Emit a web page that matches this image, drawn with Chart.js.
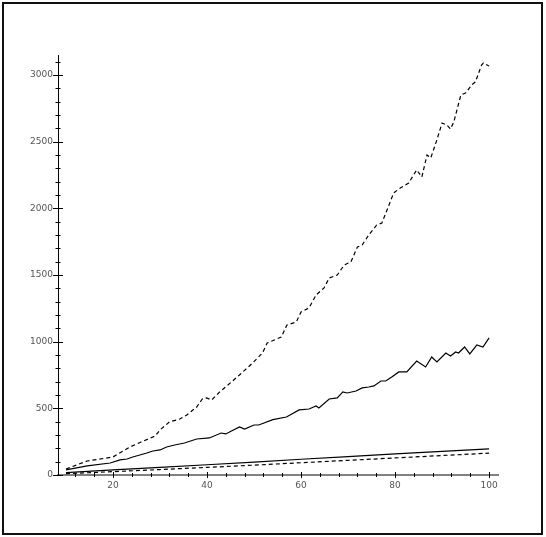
<!DOCTYPE html>
<html>
<head>
<meta charset="utf-8">
<script src="https://cdn.jsdelivr.net/npm/chart.js@4/dist/chart.umd.min.js"></script>
<style>
  html, body { margin: 0; padding: 0; background: #fff; }
  #wrap { position: relative; width: 546px; height: 537px; }
</style>
</head>
<body>
<div id="wrap"><canvas id="plot" width="546" height="537"></canvas></div>
<script>
// --- data ---
const xTop = [10,14.5,20,23.6,26,29,30,32,34.2,35.7,37.8,39,39.9,41,42.7,45.2,46.9,49.7,51.8,52.8,55.8,57,59,60,61.7,63.2,64.9,66,67.7,69.2,70.6,72,73,74.4,76.1,77.2,78.3,79.7,80.8,82.9,84.6,85.7,86.8,87.6,88.9,90,91,91.8,92.5,94,95,96.3,97.1,98.4,98.8,100];
const yTop = [45,105,135,210,248,293,338,398,420,450,510,570,578,563,623,698,750,840,915,990,1035,1125,1148,1223,1253,1350,1403,1478,1500,1575,1598,1710,1725,1800,1875,1890,1988,2115,2145,2190,2288,2235,2400,2378,2513,2640,2625,2595,2648,2850,2865,2925,2948,3075,3090,3068];

const xMid = [10,14.5,19.4,21.5,23,24.2,27.2,28.5,30,31.4,33.1,35.2,37.8,40.5,43,44,45.2,46.9,48,50,51,54,56.9,59.6,61.7,63.2,63.8,66,67.7,68.9,69.8,71.7,73,74.4,75.5,77,78,79.3,80.8,82.5,84.6,86.5,87.8,88.9,90.8,91.8,92.9,93.5,94.8,95.9,97.4,98.7,100];
const yMid = [38,68,90,113,120,135,165,180,188,210,225,240,270,278,315,308,330,360,345,375,375,415,435,488,495,518,503,570,578,623,615,630,653,660,668,705,705,735,773,773,855,810,885,848,915,893,923,915,960,908,975,960,1028];

const xLow = [10,20,30,40,50,60,70,80,90,100];
const yLowSolid = [18,38,57,77,97,118,138,158,177,196];
const yLowDash = [10,25,41,57,74,92,110,128,146,164];

// tick labels
const xLabels = [20,40,60,80,100];
const yLabels = [0,500,1000,1500,2000,2500,3000];

const pts = (xs, ys) => xs.map((x, i) => ({ x: x, y: ys[i] }));

function line(data, dashed) {
  return {
    data: data,
    borderColor: '#000',
    borderWidth: 1.2,
    borderDash: dashed ? [4, 3] : [],
    pointRadius: 0,
    tension: 0,
    fill: false
  };
}

// tick marks that cross the axes + outer frame
const axisTicks = {
  id: 'axisTicks',
  afterDraw(chart) {
    const ctx = chart.ctx;
    const area = chart.chartArea;
    const sx = chart.scales.x, sy = chart.scales.y;
    ctx.save();
    ctx.strokeStyle = '#000';
    ctx.lineWidth = 1;
    sy.ticks.forEach(t => {
      const py = Math.round(sy.getPixelForValue(t.value)) + 0.5;
      const h = yLabels.includes(t.value) ? 5 : 2.5;
      ctx.beginPath();
      ctx.moveTo(area.left - h, py);
      ctx.lineTo(area.left + h, py);
      ctx.stroke();
    });
    sx.ticks.forEach(t => {
      const px = Math.round(sx.getPixelForValue(t.value)) + 0.5;
      const h = xLabels.includes(t.value) ? 3 : 2;
      ctx.beginPath();
      ctx.moveTo(px, area.bottom - h);
      ctx.lineTo(px, area.bottom + h);
      ctx.stroke();
    });
    // frame
    ctx.strokeStyle = '#111';
    ctx.lineWidth = 2;
    ctx.strokeRect(3, 3, 539, 531);
    ctx.restore();
  }
};

new Chart(document.getElementById('plot'), {
  type: 'line',
  data: {
    datasets: [
      line(pts(xTop, yTop), true),
      line(pts(xMid, yMid), false),
      line(pts(xLow, yLowSolid), false),
      line(pts(xLow, yLowDash), true)
    ]
  },
  options: {
    responsive: false,
    animation: false,
    devicePixelRatio: 1,
    layout: { padding: { left: 0, right: 48, top: 55, bottom: 42 } },
    plugins: { legend: { display: false }, tooltip: { enabled: false } },
    scales: {
      x: {
        type: 'linear',
        min: 8.3,
        max: 101.9,
        grid: { display: false, drawTicks: false },
        border: { display: true, color: '#808080', width: 2 },
        afterFit: s => { s.height = 20; },
        ticks: {
          stepSize: 4,
          includeBounds: false,
          autoSkip: false,
          maxRotation: 0,
          padding: 5,
          color: '#555',
          font: { family: 'DejaVu Sans', size: 9 },
          callback: v => xLabels.includes(v) ? String(v) : ''
        }
      },
      y: {
        type: 'linear',
        min: 0,
        max: 3150,
        grid: { display: false, drawTicks: false },
        border: { display: true, color: '#000', width: 1 },
        afterFit: s => { s.width = 58; },
        ticks: {
          stepSize: 100,
          includeBounds: false,
          autoSkip: false,
          padding: 5,
          color: '#555',
          font: { family: 'DejaVu Sans', size: 9 },
          callback: v => yLabels.includes(v) ? String(v) : ''
        }
      }
    }
  },
  plugins: [axisTicks]
});
</script>
</body>
</html>
